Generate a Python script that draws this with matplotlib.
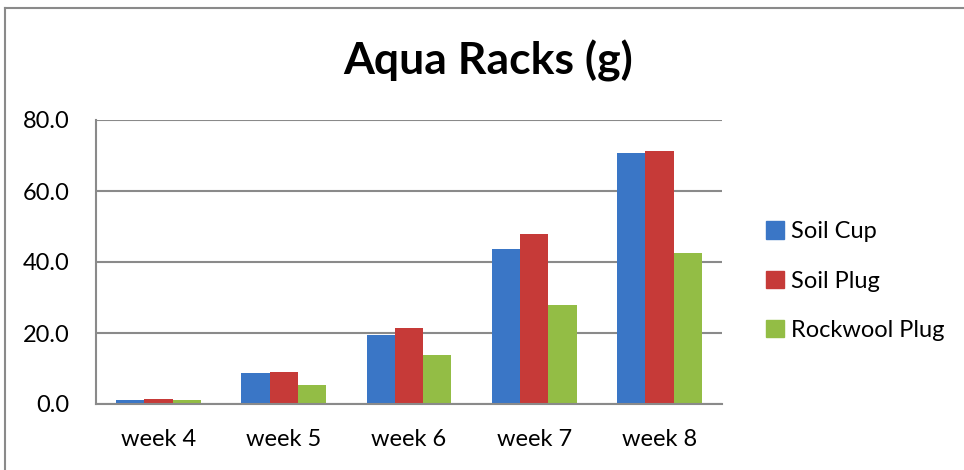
import matplotlib
matplotlib.use("Agg")
import matplotlib.pyplot as plt
import numpy as np
from matplotlib.lines import Line2D

categories = ["week 4", "week 5", "week 6", "week 7", "week 8"]
series_names = ["Soil Cup", "Soil Plug", "Rockwool Plug"]
soil_cup = [1.0, 8.6, 19.4, 43.7, 70.8]
soil_plug = [1.3, 9.1, 21.3, 47.8, 71.4]
rockwool_plug = [1.0, 5.3, 13.8, 27.9, 42.6]
yticks = [0, 20, 40, 60, 80]
ytick_labels = ["0.0", "20.0", "40.0", "60.0", "80.0"]

colors = ["#3a76c6", "#c63a38", "#93bd45"]
font = ["Lato", "DejaVu Sans"]
plt.rcParams['font.family'] = font

W, H = 964, 470
fig = plt.figure(figsize=(W / 100, H / 100), dpi=100)
ax = fig.add_axes([96 / W, 1 - 404 / H, (722 - 96) / W, (404 - 120) / H])

x = np.arange(len(categories))
bw = 0.226
for i, (vals, c) in enumerate(zip([soil_cup, soil_plug, rockwool_plug], colors)):
    ax.bar(x + (i - 1) * bw, vals, width=bw, color=c, zorder=3, label=series_names[i])

ax.set_xlim(-0.5, len(categories) - 0.5)
ax.set_ylim(0, 80)
ax.set_yticks(yticks)
ax.set_yticklabels(ytick_labels, fontsize=17)
ax.set_xticks(x)
ax.set_xticklabels(categories, fontsize=17)
ax.tick_params(axis='both', length=0, colors="#000000")
ax.tick_params(axis='y', pad=19)
ax.tick_params(axis='x', pad=18)
ax.grid(axis='y', color="#8a8a8a", linewidth=1.5, zorder=0)
for s in ["top", "right"]:
    ax.spines[s].set_visible(False)
for s in ["left", "bottom"]:
    ax.spines[s].set_color("#8a8a8a")
    ax.spines[s].set_linewidth(1.5)
ax.spines["left"].set_zorder(4)
ax.spines["bottom"].set_zorder(4)

fig.text(488 / W, 1 - 61 / H, "Aqua Racks (g)", ha="center", va="center",
         fontsize=32, fontweight="bold")

handles = [plt.Rectangle((0, 0), 1, 1, color=c) for c in colors]
leg = fig.legend(handles, series_names, loc="center left",
                 bbox_to_anchor=(745 / W, 1 - 281 / H), frameon=False,
                 fontsize=17, handlelength=0.75, handleheight=0.75,
                 handletextpad=0.3, labelspacing=1.2)

# outer chart border (top and left visible)
fig.add_artist(Line2D([5 / W, 1], [1 - 7.5 / H, 1 - 7.5 / H], color="#8a8a8a", lw=1.5))
fig.add_artist(Line2D([5 / W, 5 / W], [0, 1 - 7.5 / H], color="#8a8a8a", lw=1.5))

fig.savefig("out.png", dpi=100)
